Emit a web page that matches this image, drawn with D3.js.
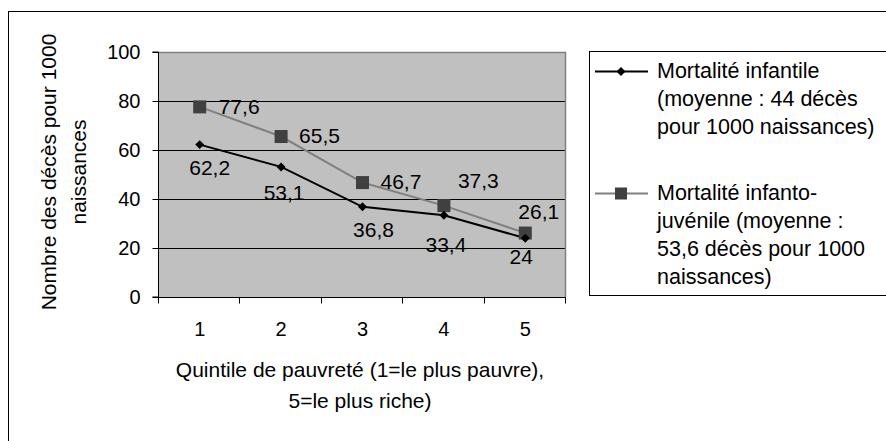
<!DOCTYPE html>
<html>
<head>
<meta charset="utf-8">
<script src="https://cdn.jsdelivr.net/npm/d3@7"></script>
<style>
  html, body { margin: 0; padding: 0; background: #fff; }
  svg text { font-family: "Liberation Sans", Arial, sans-serif; fill: #000; }
</style>
</head>
<body>
<svg id="chart" width="886" height="441"></svg>
<script>
// ---- data ----
const categories = ["1", "2", "3", "4", "5"];
const infantile = [62.2, 53.1, 36.8, 33.4, 24];
const infantoJuvenile = [77.6, 65.5, 46.7, 37.3, 26.1];
const yTicks = [0, 20, 40, 60, 80, 100];
const seriesNames = [
  ["Mortalité infantile", "(moyenne : 44 décès", "pour 1000 naissances)"],
  ["Mortalité infanto-", "juvénile (moyenne :", "53,6 décès pour 1000", "naissances)"]
];
const yTitle = ["Nombre des décès pour 1000", "naissances"];
const xTitle = ["Quintile de pauvreté (1=le plus pauvre),", "5=le plus riche)"];

// ---- layout (label nudges, not data) ----
const lab1Offsets = [[10, 23], [3, 26], [11, 23], [2, 29], [-4, 18]];
const lab2Offsets = [[19, 0], [18, -1.5], [18, -1], [14, -25], [-7, -22]];

const svg = d3.select("#chart");
const plot = { left: 159, right: 566, top: 52, bottom: 297 };

const x = d3.scaleBand().domain(categories).range([plot.left, plot.right]).padding(0);
const y = d3.scaleLinear().domain([0, 100]).range([plot.bottom, plot.top]);
const cx = c => x(c) + x.bandwidth() / 2;
const fmt = v => d3.format("")(v).replace(".", ",");

// outer border
svg.append("rect").attr("x", 8.5).attr("y", 11.5).attr("width", 1000).attr("height", 1000)
  .attr("fill", "#fff").attr("stroke", "#000").attr("stroke-width", 1);

// plot background
svg.append("rect").attr("x", plot.left).attr("y", plot.top)
  .attr("width", plot.right - plot.left).attr("height", plot.bottom - plot.top)
  .attr("fill", "#c0c0c0");

// gridlines
svg.append("g").selectAll("line").data(yTicks.filter(t => t > 0 && t < 100)).join("line")
  .attr("x1", plot.left).attr("x2", plot.right)
  .attr("y1", d => Math.round(y(d)) + 0.5).attr("y2", d => Math.round(y(d)) + 0.5)
  .attr("stroke", "#000").attr("stroke-width", 1);

// plot border top/right (gray)
svg.append("path")
  .attr("d", `M${plot.left},${plot.top + 0.5}H${plot.right - 0.5}V${plot.bottom}`)
  .attr("fill", "none").attr("stroke", "#808080").attr("stroke-width", 1.5);

// y axis
const yAxis = d3.axisLeft(y).tickValues(yTicks).tickSize(6).tickPadding(12);
const gy = svg.append("g").attr("transform", `translate(${plot.left - 0.5},0)`).call(yAxis);
gy.select(".domain").attr("stroke", "#000").attr("d", `M-6,${plot.top}H0V${plot.bottom}H-6`);
gy.selectAll(".tick line").attr("stroke", "#000");
gy.selectAll(".tick text").attr("font-size", 20).attr("font-family", "Liberation Sans, Arial, sans-serif");

// x axis
const gx = svg.append("g").attr("transform", `translate(0,${plot.bottom + 0.5})`);
gx.append("line").attr("x1", plot.left - 0.5).attr("x2", plot.right).attr("y1", 0).attr("y2", 0)
  .attr("stroke", "#000");
const bounds = categories.map(c => x(c)).concat([plot.right]);
gx.selectAll("line.tk").data(bounds).join("line").attr("class", "tk")
  .attr("x1", d => Math.round(d) - 0.5).attr("x2", d => Math.round(d) - 0.5)
  .attr("y1", 0).attr("y2", 6).attr("stroke", "#000");
gx.selectAll("text").data(categories).join("text")
  .attr("x", d => cx(d)).attr("y", 38).attr("text-anchor", "middle")
  .attr("font-size", 20).text(d => d);

// axis titles
svg.append("text").attr("text-anchor", "middle").attr("font-size", 21)
  .selectAll("tspan").data(xTitle).join("tspan")
  .attr("x", 360).attr("y", (d, i) => 377 + i * 31).text(d => d);

svg.append("text").attr("text-anchor", "middle").attr("font-size", 21)
  .attr("transform", "translate(0,172) rotate(-90)")
  .selectAll("tspan").data(yTitle).join("tspan")
  .attr("x", 0).attr("y", (d, i) => 56 + i * 30).text(d => d);

// lines
const line = d3.line().x((d, i) => cx(categories[i])).y(d => y(d));
svg.append("path").datum(infantoJuvenile).attr("d", line)
  .attr("fill", "none").attr("stroke", "#808080").attr("stroke-width", 2);
svg.append("path").datum(infantile).attr("d", line)
  .attr("fill", "none").attr("stroke", "#000").attr("stroke-width", 2);

// markers
const square = 13;
svg.append("g").selectAll("rect").data(infantoJuvenile).join("rect")
  .attr("x", (d, i) => cx(categories[i]) - square / 2)
  .attr("y", d => y(d) - square / 2)
  .attr("width", square).attr("height", square).attr("fill", "#404040");
svg.append("g").selectAll("path").data(infantile).join("path")
  .attr("d", d3.symbol().type(d3.symbolSquare).size(40)).attr("fill", "#000")
  .attr("transform", (d, i) => `translate(${cx(categories[i])},${y(d)}) rotate(45)`);

// data labels
svg.append("g").selectAll("text").data(infantile).join("text")
  .attr("x", (d, i) => cx(categories[i]) + lab1Offsets[i][0])
  .attr("y", (d, i) => y(d) + lab1Offsets[i][1])
  .attr("dy", "0.36em").attr("text-anchor", "middle").attr("font-size", 21)
  .text(d => fmt(d));
svg.append("g").selectAll("text").data(infantoJuvenile).join("text")
  .attr("x", (d, i) => cx(categories[i]) + lab2Offsets[i][0])
  .attr("y", (d, i) => y(d) + lab2Offsets[i][1])
  .attr("dy", "0.36em").attr("text-anchor", "start").attr("font-size", 21)
  .text(d => fmt(d));

// legend
const lg = svg.append("g");
lg.append("rect").attr("x", 589.5).attr("y", 51.5).attr("width", 400).attr("height", 244)
  .attr("fill", "#fff").attr("stroke", "#000");
const entries = [
  { lines: seriesNames[0], y0: 78, color: "#000", marker: "diamond" },
  { lines: seriesNames[1], y0: 200, color: "#808080", marker: "square" }
];
entries.forEach(e => {
  const my = e.y0 - 6.5;
  lg.append("line").attr("x1", 595).attr("x2", 648).attr("y1", my).attr("y2", my)
    .attr("stroke", e.color).attr("stroke-width", 2);
  if (e.marker === "diamond") {
    lg.append("path").attr("d", d3.symbol().type(d3.symbolSquare).size(40))
      .attr("transform", `translate(621,${my}) rotate(45)`).attr("fill", "#000");
  } else {
    lg.append("rect").attr("x", 621 - 6).attr("y", my - 6).attr("width", 12).attr("height", 12)
      .attr("fill", "#404040");
  }
  lg.append("text").attr("font-size", 21.5)
    .selectAll("tspan").data(e.lines).join("tspan")
    .attr("x", 657).attr("y", (d, i) => e.y0 + i * 28).text(d => d);
});
</script>
</body>
</html>
